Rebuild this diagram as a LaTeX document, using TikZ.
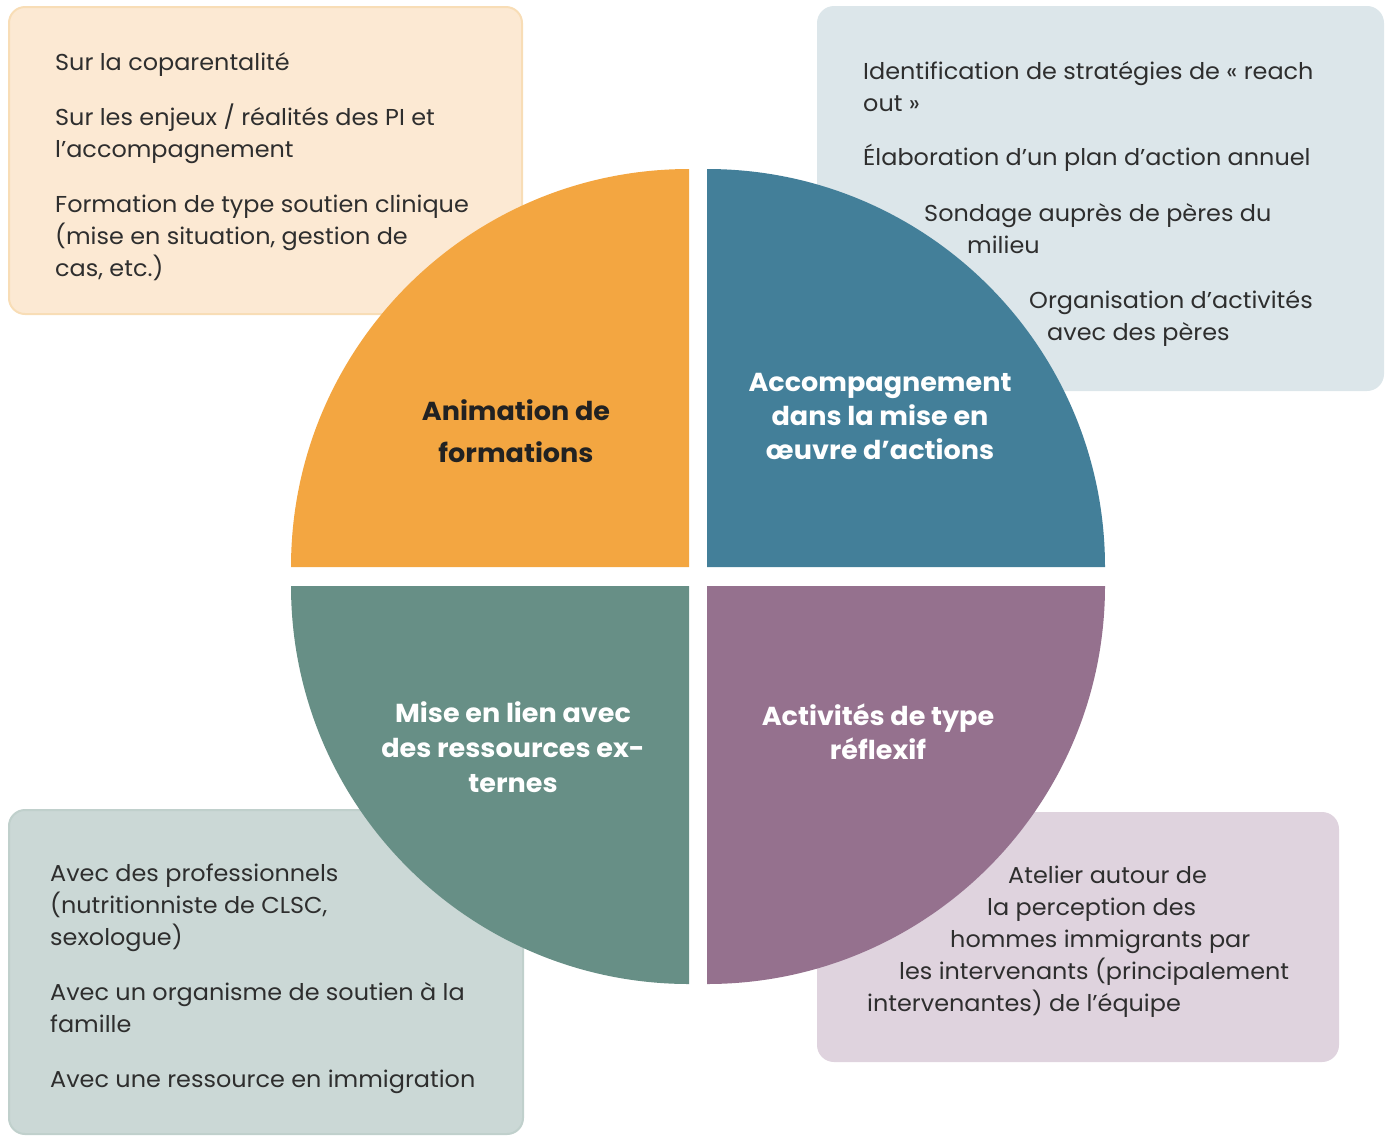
\documentclass[tikz,border=0pt]{standalone}
\usepackage{fontspec}
\setmainfont{Poppins}[FakeStretch=1.04]
\newfontfamily\titlefam{Poppins}[FakeStretch=1.04]
\definecolor{qorange}{HTML}{F3A641}
\definecolor{qblue}{HTML}{437F99}
\definecolor{qgreen}{HTML}{678F86}
\definecolor{qpurple}{HTML}{95718E}
\definecolor{borange}{HTML}{FCE9D3}
\definecolor{borangeline}{HTML}{F8DDB6}
\definecolor{bblue}{HTML}{DCE6EA}
\definecolor{bgreen}{HTML}{CBD8D6}
\definecolor{bgreenline}{HTML}{C0D0CC}
\definecolor{bpurple}{HTML}{DFD3DE}
\definecolor{txt}{HTML}{2E2E2E}
\definecolor{ttxt}{HTML}{222222}
\newcommand{\bodyfont}{\fontsize{23}{32}\selectfont}
\newcommand{\titlefont}{\titlefam\fontsize{26}{34}\selectfont\bfseries}
\begin{document}
\begin{tikzpicture}[x=1pt,y=-1pt,
  body/.style={anchor=base west, inner sep=0pt, font=\bodyfont, text=txt},
  ttl/.style={anchor=base, inner sep=0pt, font=\titlefont},
  infobox/.style={rounded corners=16pt, line width=2pt}]
\useasboundingbox (0,0) rectangle (1386,1136);
% boxes
\draw[infobox, fill=borange, draw=borangeline] (9,7) rectangle (522,314);
\draw[infobox, fill=bblue, draw=bblue] (818,7) rectangle (1383,390);
\draw[infobox, fill=bgreen, draw=bgreenline] (9,810) rectangle (523,1134);
\draw[infobox, fill=bpurple, draw=bpurple] (818,813) rectangle (1338,1061);
% quadrants
\fill[qorange] (689,567) -- (291,567) arc[start angle=180, end angle=90, radius=398pt] -- cycle;
\fill[qblue] (707,567) -- (1105,567) arc[start angle=0, end angle=90, radius=398pt] -- cycle;
\fill[qgreen] (689,586) -- (291,586) arc[start angle=180, end angle=270, radius=398pt] -- cycle;
\fill[qpurple] (707,586) -- (1105,586) arc[start angle=0, end angle=-90, radius=398pt] -- cycle;
% titles
\node[ttl, text=ttxt] (ta1) at (516,420) {Animation de};
\node[ttl, text=ttxt] (ta2) at (516,462) {formations};
\node[ttl, text=white] (tb1) at (880,391) {Accompagnement};
\node[ttl, text=white] (tb2) at (880,425) {dans la mise en};
\node[ttl, text=white] (tb3) at (880,459) {œuvre d’actions};
\node[ttl, text=white] (tc1) at (513,722) {Mise en lien avec};
\node[ttl, text=white] (tc2) at (513,757) {des ressources ex-};
\node[ttl, text=white] (tc3) at (513,792) {ternes};
\node[ttl, text=white] (td1) at (878,725) {Activités de type};
\node[ttl, text=white] (td2) at (878,759) {réflexif};
% orange box text
\node[body] (o1) at (55,70) {Sur la coparentalité};
\node[body] (o2) at (55,125) {Sur les enjeux / réalités des PI et};
\node[body] (o3) at (55,157) {l’accompagnement};
\node[body] (o4) at (55,212) {Formation de type soutien clinique};
\node[body] (o5) at (55,244) {(mise en situation, gestion de};
\node[body] (o6) at (55,276) {cas, etc.)};
% blue box text
\node[body] (b1) at (863,79) {Identification de stratégies de « reach};
\node[body] (b2) at (863,111) {out »};
\node[body] (b3) at (863,165) {Élaboration d’un plan d’action annuel};
\node[body] (b4) at (924,221) {Sondage auprès de pères du};
\node[body] (b5) at (967,253) {milieu};
\node[body] (b6) at (1029,308) {Organisation d’activités};
\node[body] (b7) at (1047,340) {avec des pères};
% green box text
\node[body] (g1) at (50,881) {Avec des professionnels};
\node[body] (g2) at (50,913) {(nutritionniste de CLSC,};
\node[body] (g3) at (50,945) {sexologue)};
\node[body] (g4) at (50,1000) {Avec un organisme de soutien à la};
\node[body] (g5) at (50,1032) {famille};
\node[body] (g6) at (50,1087) {Avec une ressource en immigration};
% purple box text
\node[body] (p1) at (1008,883) {Atelier autour de};
\node[body] (p2) at (987,915) {la perception des};
\node[body] (p3) at (950,947) {hommes immigrants par};
\node[body] (p4) at (899,979) {les intervenants (principalement};
\node[body] (p5) at (867,1011) {intervenantes) de l’équipe};
\end{tikzpicture}
\end{document}
